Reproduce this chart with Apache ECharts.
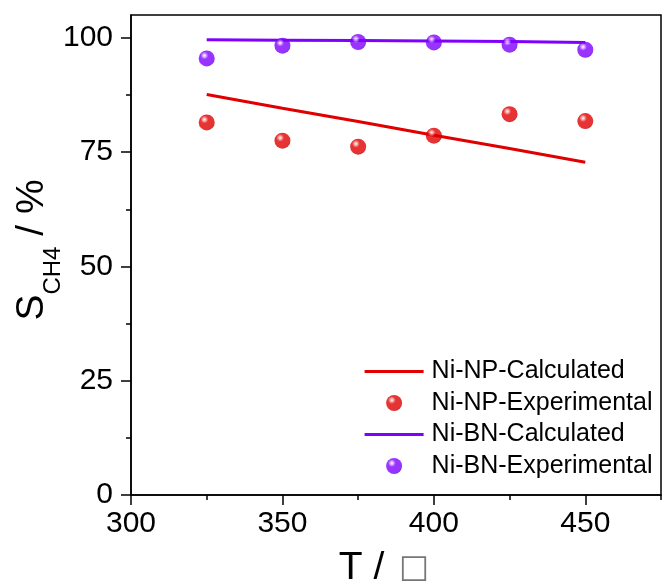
<!DOCTYPE html>
<html>
<head>
<meta charset="utf-8">
<script src="https://cdn.jsdelivr.net/npm/echarts@6/dist/echarts.min.js"></script>
<style>html,body{margin:0;padding:0;background:#fff}#c{width:662px;height:586px}</style>
</head>
<body>
<div id="c"></div>
<script>
const temps = [325, 350, 375, 400, 425, 450];
const npCalc = [87.6, 84.6, 81.7, 78.7, 75.8, 72.8];
const npExp = [81.5, 77.5, 76.2, 78.6, 83.3, 81.8];
const bnCalc = [99.6, 99.5, 99.4, 99.3, 99.2, 99.0];
const bnExp = [95.5, 98.3, 99.1, 99.0, 98.5, 97.4];
const xMajor = [300, 350, 400, 450];
const xMinor = [325, 375, 425, 475];
const yMajor = [0, 25, 50, 75, 100];
const yMinor = [12.5, 37.5, 62.5, 87.5];
const names = ['Ni-NP-Calculated', 'Ni-NP-Experimental', 'Ni-BN-Calculated', 'Ni-BN-Experimental'];

const RED = '#e00000', PURPLE = '#8000ff';
const FONT = '"Liberation Sans", Arial, sans-serif';

function sphere(light, base, dark) {
  return new echarts.graphic.RadialGradient(0.36, 0.32, 0.75, [
    {offset: 0, color: '#ffffff'},
    {offset: 0.1, color: light},
    {offset: 0.32, color: base},
    {offset: 0.8, color: base},
    {offset: 1, color: dark}
  ]);
}
const pair = (xs, ys) => xs.map((x, i) => [x, ys[i]]);

const gridBox = {left: 131, top: 15, right: 1, bottom: 91};
const chart = echarts.init(document.getElementById('c'), null, {renderer: 'canvas'});
const hiddenSym = {color: 'rgba(0,0,0,0)', borderWidth: 0, opacity: 0};
chart.setOption({
  animation: false,
  backgroundColor: '#fff',
  grid: [
    Object.assign({show: true, borderColor: '#000', borderWidth: 1.5, containLabel: false, outerBoundsMode: 'none'}, gridBox),
    Object.assign({show: false, containLabel: false, outerBoundsMode: 'none'}, gridBox)
  ],
  legend: {
    orient: 'vertical',
    left: 358, top: 354,
    itemWidth: 59, itemHeight: 16, itemGap: 6.5,
    data: [
      {name: names[0], itemStyle: hiddenSym, lineStyle: {width: 3.2}},
      {name: names[1]},
      {name: names[2], itemStyle: hiddenSym, lineStyle: {width: 3.2}},
      {name: names[3]}
    ],
    textStyle: {fontFamily: FONT, fontSize: 25, color: '#000', padding: [0, 0, 0, 3]}
  },
  xAxis: [
    {
      type: 'value', gridIndex: 0, min: 300, max: 475, interval: 50,
      axisLine: {show: true, lineStyle: {color: '#000', width: 1.5}},
      axisTick: {show: true, inside: false, length: 10, lineStyle: {color: '#000', width: 1.5}, customValues: xMajor},
      axisLabel: {fontFamily: FONT, fontSize: 30, color: '#000', margin: 14, customValues: xMajor},
      splitLine: {show: false},
      name: '{t|T / }{b|□}',
      nameLocation: 'middle', nameGap: 54, nameMoveOverlap: false,
      nameTextStyle: {
        padding: [0, 24, 0, 0],
        rich: {
          t: {fontFamily: FONT, fontSize: 39, color: '#000'},
          b: {fontFamily: '"DejaVu Sans"', fontSize: 32, color: '#777', padding: [0, 0, 0, 4]}
        }
      }
    },
    {
      type: 'value', gridIndex: 1, min: 300, max: 475, interval: 25,
      axisLine: {show: false},
      axisTick: {show: true, inside: false, length: 5, lineStyle: {color: '#000', width: 1.5}, customValues: xMinor},
      axisLabel: {show: false},
      splitLine: {show: false}
    }
  ],
  yAxis: [
    {
      type: 'value', gridIndex: 0, min: 0, max: 105, interval: 25,
      axisLine: {show: true, lineStyle: {color: '#000', width: 1.5}},
      axisTick: {show: true, inside: false, length: 10, lineStyle: {color: '#000', width: 1.5}, customValues: yMajor},
      axisLabel: {fontFamily: FONT, fontSize: 30, color: '#000', margin: 18, customValues: yMajor},
      splitLine: {show: false},
      name: '{s|S}{sub|CH4}{n| / %}',
      nameLocation: 'middle', nameRotate: 90, nameGap: 66, nameMoveOverlap: false,
      nameTextStyle: {
        padding: [0, 0, 0, 10],
        rich: {
          s: {fontFamily: FONT, fontSize: 39, color: '#000', lineHeight: 66},
          sub: {fontFamily: FONT, fontSize: 24, color: '#000', verticalAlign: 'bottom'},
          n: {fontFamily: FONT, fontSize: 39, color: '#000', lineHeight: 66}
        }
      }
    },
    {
      type: 'value', gridIndex: 1, min: 0, max: 105, interval: 25,
      axisLine: {show: false},
      axisTick: {show: true, inside: false, length: 5, lineStyle: {color: '#000', width: 1.5}, customValues: yMinor},
      axisLabel: {show: false},
      splitLine: {show: false}
    }
  ],
  series: [
    {
      name: names[0], type: 'line', data: pair(temps, npCalc), symbol: 'none', showSymbol: false, z: 2,
      lineStyle: {color: RED, width: 3}, itemStyle: {color: RED}
    },
    {
      name: names[1], type: 'scatter', data: pair(temps, npExp), symbol: 'circle', symbolSize: 16, z: 5,
      itemStyle: {color: sphere('#ffb0b0', RED, '#a80000')}
    },
    {
      name: names[2], type: 'line', data: pair(temps, bnCalc), symbol: 'none', showSymbol: false, z: 2,
      lineStyle: {color: PURPLE, width: 3}, itemStyle: {color: PURPLE}
    },
    {
      name: names[3], type: 'scatter', data: pair(temps, bnExp), symbol: 'circle', symbolSize: 16, z: 5,
      itemStyle: {color: sphere('#dcb8ff', PURPLE, '#5a00c0')}
    }
  ]
});
</script>
</body>
</html>
